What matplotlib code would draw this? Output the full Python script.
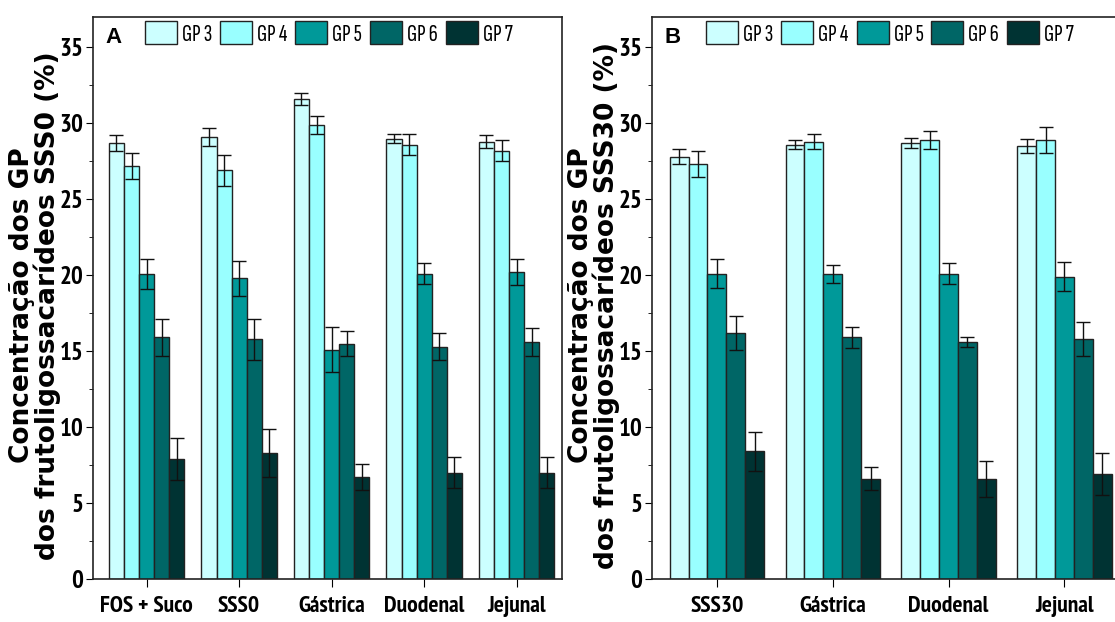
import numpy as np
import matplotlib
matplotlib.use("Agg")
import matplotlib.pyplot as plt
from matplotlib import font_manager
from matplotlib.ft2font import FT2Font
from matplotlib.textpath import TextPath
from matplotlib.ticker import MultipleLocator

# -----------------------------
# Data
# -----------------------------

groups = ["GP 3", "GP 4", "GP 5", "GP 6", "GP 7"]
colors = ["#CCFFFF", "#99FFFF", "#009999", "#006666", "#003333"]

cats_a = ["FOS + Suco", "SSS0", "Gástrica", "Duodenal", "Jejunal"]
# rows = GP3..GP7, columns = categories
vals_a = [
    [28.7, 29.1, 31.6, 29.0, 28.8],
    [27.2, 26.9, 29.9, 28.6, 28.2],
    [20.1, 19.8, 15.1, 20.1, 20.2],
    [15.9, 15.8, 15.5, 15.3, 15.6],
    [7.9, 8.3, 6.7, 7.0, 7.0],
]
errs_a = [
    [0.5, 0.6, 0.4, 0.3, 0.4],
    [0.85, 1.0, 0.6, 0.7, 0.7],
    [1.0, 1.15, 1.5, 0.7, 0.85],
    [1.2, 1.35, 0.8, 0.9, 0.9],
    [1.4, 1.6, 0.85, 1.0, 1.0],
]

cats_b = ["SSS30", "Gástrica", "Duodenal", "Jejunal"]
vals_b = [
    [27.8, 28.6, 28.7, 28.5],
    [27.3, 28.8, 28.9, 28.9],
    [20.1, 20.1, 20.1, 19.9],
    [16.2, 15.9, 15.6, 15.8],
    [8.4, 6.6, 6.6, 6.9],
]
errs_b = [
    [0.5, 0.3, 0.35, 0.45],
    [0.85, 0.5, 0.6, 0.85],
    [0.95, 0.6, 0.7, 0.95],
    [1.1, 0.7, 0.3, 1.1],
    [1.3, 0.75, 1.2, 1.4],
]

ylabel_a = "Concentração dos GP\ndos frutoligossacarídeos SSS0 (%)"
ylabel_b = "Concentração dos GP\ndos frutoligossacarídeos SSS30 (%)"

# -----------------------------
# Pick the narrowest sans face installed in a weight range
# (the labels in the original are a tall, condensed face)
# -----------------------------

sans_keys = ["sans", "roboto", "lato", "inter", "arimo"]


def narrowest(wmin, wmax):
    pick, best = None, None
    seen = set()
    for f in font_manager.fontManager.ttflist:
        if f.fname in seen:
            continue
        seen.add(f.fname)
        name = f.name.lower()
        if f.style != "normal" or "serif" in name or "mono" in name or "cjk" in name:
            continue
        if not any(k in name for k in sans_keys):
            continue
        w = f.weight if isinstance(f.weight, int) else 400
        if w < wmin or w > wmax:
            continue
        try:
            ft = FT2Font(f.fname)
            if any(ft.get_char_index(ord(c)) == 0 for c in "GPSáçã035"):
                continue
            fp = font_manager.FontProperties(fname=f.fname)
            h = TextPath((0, 0), "H", size=100, prop=fp).get_extents().height
            e = TextPath((0, 0), "GP 3", size=100, prop=fp).get_extents()
            d = TextPath((0, 0), "35", size=100, prop=fp).get_extents()
            if h <= 0 or abs(d.height / h - 1.0) > 0.08:
                continue
            ratio = e.width / h
        except Exception:
            continue
        if ratio < 1.4:
            continue
        if best is None or ratio < best:
            best, pick = ratio, f.fname
    return pick


bold_file = narrowest(600, 800)
reg_file = narrowest(350, 500)

if bold_file:
    tick_font = font_manager.FontProperties(fname=bold_file, size=18)
    cat_font = font_manager.FontProperties(fname=bold_file, size=17)
else:
    tick_font = font_manager.FontProperties(family="Liberation Sans", weight="bold", size=15)
    cat_font = font_manager.FontProperties(family="Liberation Sans", weight="bold", size=14)
if reg_file:
    leg_font = font_manager.FontProperties(fname=reg_file, size=18)
else:
    leg_font = font_manager.FontProperties(family="Liberation Sans", size=13)

fig = plt.figure(figsize=(11.15, 6.22), dpi=100)
ax_a = fig.add_axes([0.0834, 0.0691, 0.4206, 0.9036])
ax_b = fig.add_axes([0.5848, 0.0691, 0.4197, 0.9036])

bar_w = 0.163


def draw_panel(ax, cats, vals, errs, letter, ylabel, xlim, leg_x):
    x = np.arange(1, len(cats) + 1)
    for i, g in enumerate(groups):
        pos = x + (i - 2) * bar_w
        ax.bar(pos, vals[i], width=bar_w, color=colors[i], edgecolor="#222222",
               linewidth=1.0, label=g, zorder=2)
        ax.errorbar(pos, vals[i], yerr=errs[i], fmt="none", ecolor="#111111",
                    elinewidth=1.0, capsize=5, capthick=1.0, zorder=3)
    ax.set_xlim(*xlim)
    ax.set_ylim(0, 37)
    ax.set_xticks(x)
    ax.set_xticklabels(cats)
    for lab in ax.get_xticklabels():
        lab.set_fontproperties(cat_font)
    ax.yaxis.set_major_locator(MultipleLocator(5))
    ax.yaxis.set_minor_locator(MultipleLocator(2.5))
    ax.tick_params(axis="y", which="major", direction="out", length=5, pad=2)
    ax.tick_params(axis="y", which="minor", direction="out", length=3)
    ax.tick_params(axis="x", direction="out", length=6, pad=6)
    for lab in ax.get_yticklabels():
        lab.set_fontproperties(tick_font)
    for s in ax.spines.values():
        s.set_linewidth(1.2)
        s.set_color("#222222")
    ax.set_ylabel(ylabel, fontsize=19, fontweight="bold",
                  family=["DejaVu Sans"], linespacing=0.92)
    ax.yaxis.set_label_coords(-0.069, 0.487)
    ax.text(0.026, 0.964, letter, transform=ax.transAxes, fontsize=16,
            fontweight="bold", va="center", ha="left",
            family=["Liberation Sans", "DejaVu Sans"])
    ax.legend(loc="upper left", bbox_to_anchor=(leg_x, 0.997), ncol=5,
              frameon=False, prop=leg_font, handlelength=1.28,
              handleheight=1.0, handletextpad=0.2, columnspacing=0.32,
              borderpad=0.1, borderaxespad=0.0)


draw_panel(ax_a, cats_a, vals_a, errs_a, "A", ylabel_a, (0.42, 5.49), 0.105)
draw_panel(ax_b, cats_b, vals_b, errs_b, "B", ylabel_b, (0.44, 4.48), 0.11)

fig.savefig("out.png", dpi=100)
plt.close(fig)
